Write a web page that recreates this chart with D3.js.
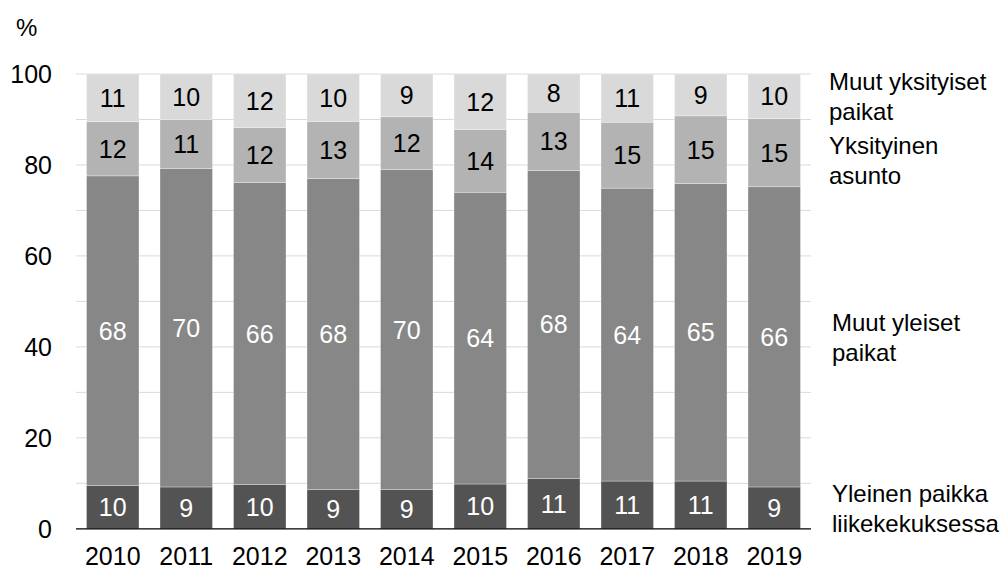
<!DOCTYPE html>
<html>
<head>
<meta charset="utf-8">
<script src="https://cdn.jsdelivr.net/npm/d3@7"></script>
<style>
  html, body { margin: 0; padding: 0; background: #fff; }
  svg { display: block; font-family: Arial, "Liberation Sans", sans-serif; }
</style>
</head>
<body>
<svg id="chart" width="1005" height="571"></svg>
<script>
// ---- data ----
const years = ["2010","2011","2012","2013","2014","2015","2016","2017","2018","2019"];
const seriesNames = [
  "Yleinen paikka liikekekuksessa",
  "Muut yleiset paikat",
  "Yksityinen asunto",
  "Muut yksityiset paikat"
];
const legendLines = [
  ["Yleinen paikka", "liikekekuksessa"],
  ["Muut yleiset", "paikat"],
  ["Yksityinen", "asunto"],
  ["Muut yksityiset", "paikat"]
];
const yleinenLiikekeskus = [9.5, 9.2, 9.7, 8.6, 8.6, 9.85, 11.1, 10.5, 10.5, 9.2];
const muutYleiset        = [68.1, 70.0, 66.4, 68.4, 70.4, 64.15, 67.7, 64.4, 65.4, 66.0];
const yksityinenAsunto   = [11.9, 10.8, 12.1, 12.6, 11.6, 13.8, 12.8, 14.5, 14.9, 15.0];
const muutYksityiset     = [10.5, 10.0, 11.8, 10.4, 9.4, 12.2, 8.4, 10.6, 9.2, 9.8];
const yTicks = [0, 20, 40, 60, 80, 100];
const gridTicks = [10, 20, 30, 40, 50, 60, 70, 80, 90, 100];

// ---- styling ----
const colors = ["#535353", "#878787", "#b3b3b3", "#d9d9d9"];
const labelColors = ["#ffffff", "#ffffff", "#000000", "#000000"];

const svg = d3.select("#chart");
const x0 = 76, x1 = 811, yTop = 74, yBottom = 528.8;

const rows = years.map((yr, i) => ({
  year: yr,
  s0: yleinenLiikekeskus[i],
  s1: muutYleiset[i],
  s2: yksityinenAsunto[i],
  s3: muutYksityiset[i]
}));
const keys = ["s0", "s1", "s2", "s3"];
const stacked = d3.stack().keys(keys)(rows);

const x = d3.scaleBand().domain(years).range([x0, x1])
  .paddingInner(0.286).paddingOuter(0.143);
const y = d3.scaleLinear().domain([0, 100]).range([yBottom, yTop]);

// gridlines
svg.append("g").selectAll("line").data(gridTicks).join("line")
  .attr("x1", x0).attr("x2", x1)
  .attr("y1", d => y(d)).attr("y2", d => y(d))
  .attr("stroke", "#d9d9d9").attr("stroke-width", 1);

// bars
const layers = svg.append("g").selectAll("g").data(stacked).join("g")
  .attr("fill", (d, i) => colors[i]);
layers.selectAll("rect").data(d => d).join("rect")
  .attr("x", d => x(d.data.year))
  .attr("width", x.bandwidth())
  .attr("y", d => y(d[1]))
  .attr("height", d => y(d[0]) - y(d[1]))
  .attr("stroke", "#ffffff").attr("stroke-width", 0.6).attr("stroke-opacity", 0.5);

// data labels
const lab = svg.append("g").attr("font-size", 25).attr("text-anchor", "middle");
stacked.forEach((layer, li) => {
  lab.append("g").attr("fill", labelColors[li])
    .selectAll("text").data(layer).join("text")
    .attr("x", d => x(d.data.year) + x.bandwidth() / 2)
    .attr("y", d => (y(d[0]) + y(d[1])) / 2)
    .attr("dy", "0.36em")
    .text(d => Math.round(d[1] - d[0]));
});

// x axis line
svg.append("line")
  .attr("x1", x0).attr("x2", x1)
  .attr("y1", y(0)).attr("y2", y(0))
  .attr("stroke", "#000").attr("stroke-width", 1.2);

// y tick labels
svg.append("g").selectAll("text").data(yTicks).join("text")
  .attr("x", 52).attr("y", d => y(d)).attr("dy", "0.36em")
  .attr("text-anchor", "end").attr("font-size", 25).attr("fill", "#000")
  .text(d => d);

// x labels
svg.append("g").selectAll("text").data(years).join("text")
  .attr("x", d => x(d) + x.bandwidth() / 2).attr("y", 565)
  .attr("text-anchor", "middle").attr("font-size", 25).attr("fill", "#000")
  .text(d => d);

// unit
svg.append("text").attr("x", 16).attr("y", 36)
  .attr("font-size", 24).attr("fill", "#000").text("%");

// right-side series labels, positioned at segment centres of last bar
const last = stacked.map(layer => {
  const d = layer[layer.length - 1];
  return (y(d[0]) + y(d[1])) / 2;
});
const lineH = 30;
const order = [3, 2, 1, 0];
const centers = {};
let prevBottom = -Infinity;
order.forEach(i => {
  let c = last[i];
  const half = lineH;
  if (c - half < prevBottom + 4) c = prevBottom + 4 + half;
  centers[i] = c;
  prevBottom = c + half;
});
const legX = [832, 832, 829, 829];
order.forEach(i => {
  const t = svg.append("text").attr("font-size", 24).attr("fill", "#000")
    .attr("x", legX[i]);
  legendLines[i].forEach((ln, k) => {
    t.append("tspan").attr("x", legX[i])
      .attr("y", centers[i] - lineH / 2 + k * lineH)
      .attr("dy", "0.36em").text(ln);
  });
});
</script>
</body>
</html>
